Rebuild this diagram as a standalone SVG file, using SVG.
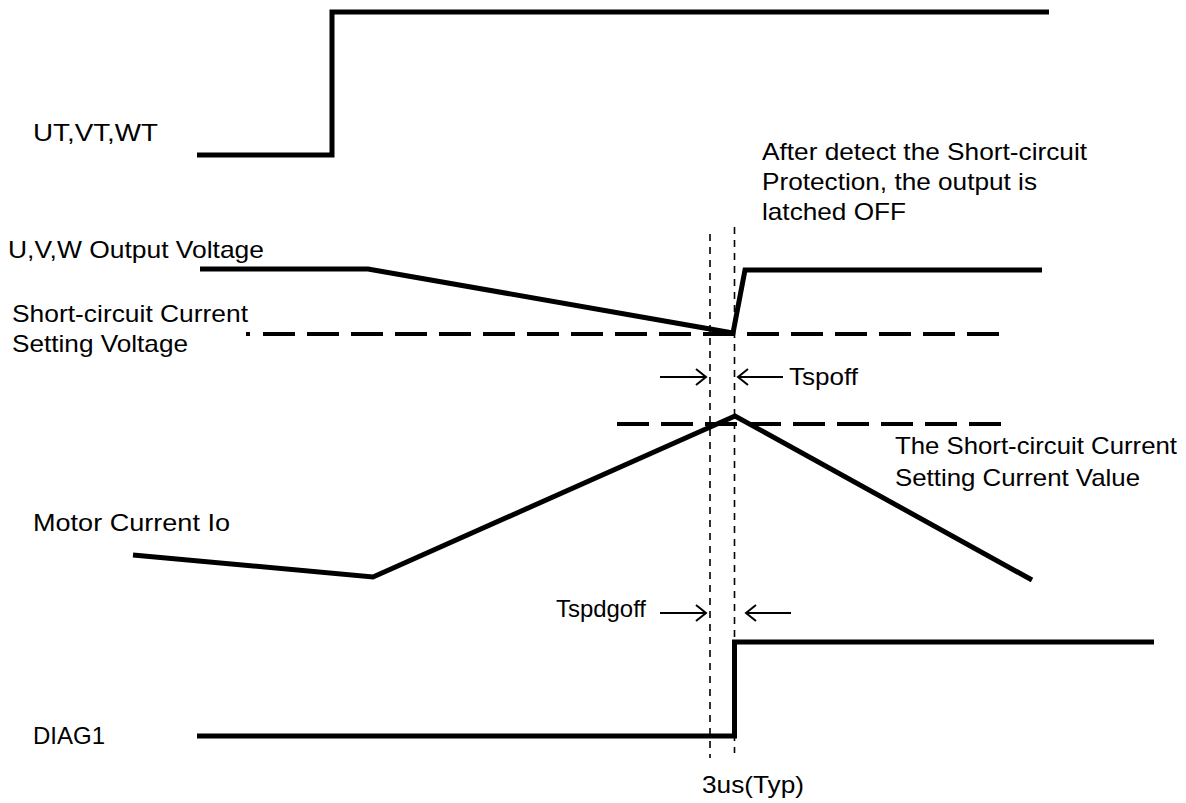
<svg xmlns="http://www.w3.org/2000/svg" width="1186" height="803" viewBox="0 0 1186 803">
<defs>
<style>
.t{font-family:"Liberation Sans",Arial,sans-serif;font-size:24px;fill:#000}
.w{fill:none;stroke:#000;stroke-width:5;stroke-linejoin:miter;stroke-linecap:butt}
.d{fill:none;stroke:#000;stroke-width:4;stroke-dasharray:32 12}
.v{fill:none;stroke:#000;stroke-width:1.6;stroke-dasharray:7 6}
.a{fill:none;stroke:#000;stroke-width:2;marker-end:url(#ah)}
</style>
<marker id="ah" markerWidth="14" markerHeight="20" refX="11" refY="9" orient="auto" markerUnits="userSpaceOnUse">
<path d="M1,1 L11,9 L1,17" fill="none" stroke="#000" stroke-width="2"/>
</marker>
</defs>
<rect width="1186" height="803" fill="#fff"/>
<g id="connectors">
<line class="v" x1="710" y1="234" x2="710" y2="758"/>
<line class="v" x1="734.5" y1="227" x2="734.5" y2="753"/>
<line x1="246" y1="334" x2="250" y2="334" stroke="#000" stroke-width="4"/>
<line class="d" x1="263" y1="334" x2="1000" y2="334"/>
<line class="d" x1="617" y1="424" x2="1001" y2="424"/>
<line class="a" x1="660" y1="377" x2="706" y2="377"/>
<line class="a" x1="783" y1="377" x2="738" y2="377"/>
<line class="a" x1="660" y1="613" x2="706" y2="613"/>
<line class="a" x1="791" y1="613" x2="746" y2="613"/>
</g>
<g id="ut">
<polyline class="w" points="197,155 332,155 332,12 1049,12"/>
<text class="t" x="33" y="141" textLength="125" lengthAdjust="spacingAndGlyphs">UT,VT,WT</text>
</g>
<g id="uvw">
<polyline class="w" points="200,269 368,269 733,333 745,270 1042,270"/>
<text class="t" x="8" y="258" textLength="256" lengthAdjust="spacingAndGlyphs">U,V,W Output Voltage</text>
</g>
<g id="scv">
<text class="t" x="12" y="322" textLength="236" lengthAdjust="spacingAndGlyphs">Short-circuit Current</text>
<text class="t" x="12" y="352" textLength="176" lengthAdjust="spacingAndGlyphs">Setting Voltage</text>
</g>
<g id="note">
<text class="t" x="762" y="160" textLength="325" lengthAdjust="spacingAndGlyphs">After detect the Short-circuit</text>
<text class="t" x="762" y="190" textLength="275" lengthAdjust="spacingAndGlyphs">Protection, the output is</text>
<text class="t" x="762" y="220" textLength="144" lengthAdjust="spacingAndGlyphs">latched OFF</text>
</g>
<g id="tspoff">
<text class="t" x="789" y="385" textLength="69" lengthAdjust="spacingAndGlyphs">Tspoff</text>
</g>
<g id="scc">
<text class="t" x="895" y="454" textLength="282" lengthAdjust="spacingAndGlyphs">The Short-circuit Current</text>
<text class="t" x="895" y="486" textLength="245" lengthAdjust="spacingAndGlyphs">Setting Current Value</text>
</g>
<g id="motor">
<polyline class="w" points="133,555 373,577 735,416 1032,580"/>
<text class="t" x="33" y="531" textLength="197" lengthAdjust="spacingAndGlyphs">Motor Current Io</text>
</g>
<g id="tspdgoff">
<text class="t" x="556" y="617" textLength="90" lengthAdjust="spacingAndGlyphs">Tspdgoff</text>
</g>
<g id="diag1">
<polyline class="w" points="197,736 734.5,736 734.5,642 1154,642"/>
<text class="t" x="33" y="744" textLength="72" lengthAdjust="spacingAndGlyphs">DIAG1</text>
</g>
<g id="typ">
<text class="t" x="702" y="793" textLength="102" lengthAdjust="spacingAndGlyphs">3us(Typ)</text>
</g>
</svg>
